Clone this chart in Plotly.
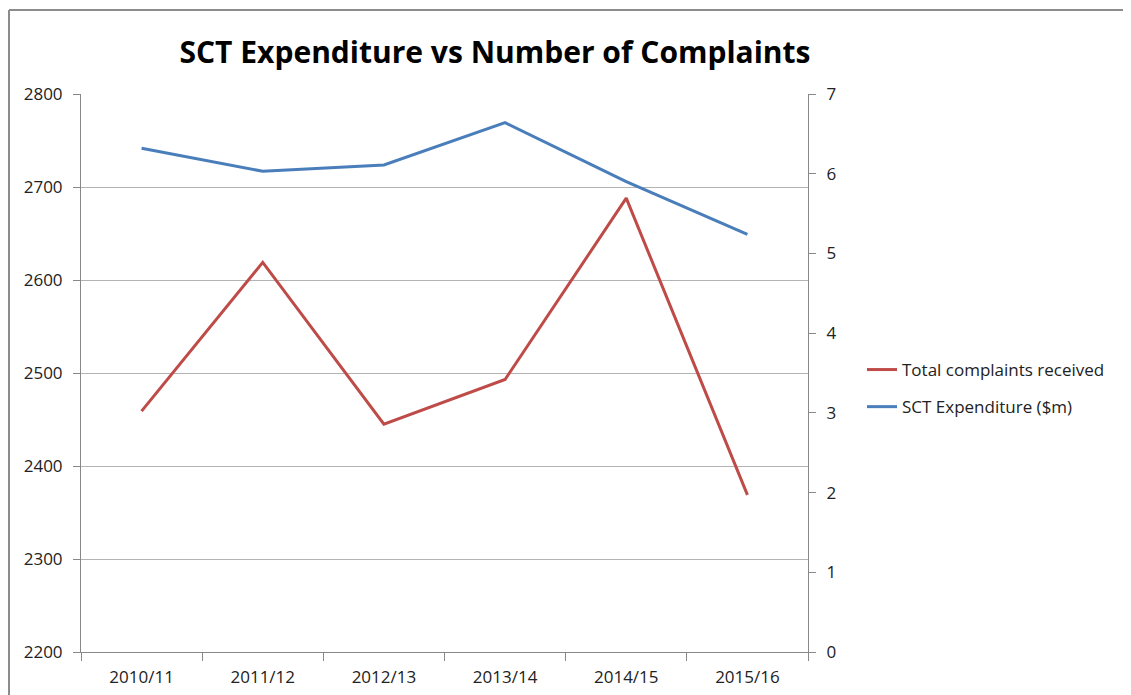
import plotly.graph_objects as go

years = ["2010/11", "2011/12", "2012/13", "2013/14", "2014/15", "2015/16"]
complaints = [2459, 2619, 2445, 2493, 2688, 2369]
expenditure = [6.32, 6.03, 6.11, 6.64, 5.90, 5.24]

FONT = "Open Sans"
OFF = 8  # page body margin
W, H = 1131 - OFF, 695 - OFF
ml, mr, mt, mb = 81 - OFF, 323, 94 - OFF, 43

fig = go.Figure()
fig.add_trace(go.Scatter(x=years, y=complaints, name="Total complaints received",
                         legendgroup="a", mode="lines",
                         line=dict(color="#BE4B48", width=3), yaxis="y"))
fig.add_trace(go.Scatter(x=years, y=expenditure, name="SCT Expenditure ($m)",
                         legendgroup="b", mode="lines",
                         line=dict(color="#4A7EBB", width=3), yaxis="y2"))

pw = W - ml - mr
ph = H - mt - mb
# chart frame (border) in paper coords
x0 = (1 - ml) / pw
y1 = 1 + (mt - 2) / ph
fig.add_shape(type="line", xref="paper", yref="paper", x0=x0, x1=(W + 5 - ml) / pw,
              y0=y1, y1=y1, line=dict(color="#8C8C8C", width=2))
fig.add_shape(type="line", xref="paper", yref="paper", x0=x0, x1=x0,
              y0=y1, y1=-(mb + 5) / ph, line=dict(color="#8C8C8C", width=2))

tick_font = dict(family=FONT, size=17, color="#222222")

fig.update_layout(
    width=W, height=H,
    margin=dict(l=ml, r=mr, t=mt, b=mb, autoexpand=False),
    paper_bgcolor="white", plot_bgcolor="white",
    font=dict(family=FONT, size=17, color="#222222"),
    title=dict(text="<b>SCT Expenditure vs Number of Complaints</b>",
               x=(495 - OFF) / W, xanchor="center", y=1 - (52 - OFF) / H, yanchor="middle",
               font=dict(family=FONT, size=30, color="black")),
    xaxis=dict(type="category", range=[-0.5, 5.5], showgrid=False, automargin=False,
               showline=True, linecolor="#888888", linewidth=1,
               ticks="outside", tickson="boundaries", ticklen=8, tickcolor="#888888",
               ticklabelstandoff=10, tickfont=tick_font),
    yaxis=dict(range=[2200, 2800], dtick=100, showgrid=True, gridcolor="#B3B3B3",
               gridwidth=1, showline=True, linecolor="#888888", linewidth=1,
               ticks="outside", ticklen=7, tickcolor="#888888", zeroline=False,
               automargin=False, ticklabelstandoff=7, tickfont=tick_font),
    yaxis2=dict(range=[0, 7], dtick=1, overlaying="y", side="right", showgrid=False,
                showline=True, linecolor="#888888", linewidth=1,
                ticks="outside", ticklen=7, tickcolor="#888888", zeroline=False,
                automargin=False, ticklabelstandoff=7, tickfont=tick_font),
    legend=dict(x=(862 - OFF - ml) / pw, xanchor="left", y=1 - (352 - OFF - mt) / ph,
                yanchor="top", font=dict(family=FONT, size=17, color="#222222"),
                bgcolor="rgba(0,0,0,0)", tracegroupgap=12),
    showlegend=True,
)

fig.write_html("out.html")
